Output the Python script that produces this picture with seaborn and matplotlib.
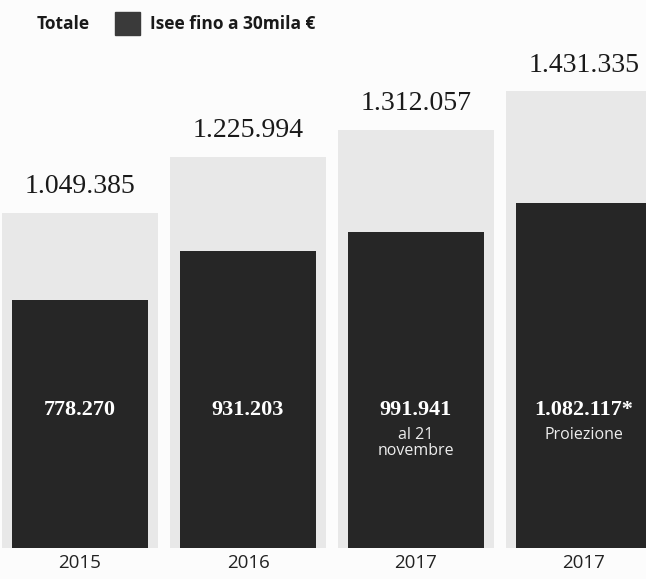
import matplotlib
matplotlib.use("Agg")
import matplotlib.pyplot as plt
import seaborn as sns
import pandas as pd

# Data
anni = ["2015", "2016", "2017", "2017"]
totale = [1049385, 1225994, 1312057, 1431335]
isee_30mila = [778270, 931203, 991941, 1082117]
totale_lbl = ["1.049.385", "1.225.994", "1.312.057", "1.431.335"]
isee_lbl = ["778.270", "931.203", "991.941", "1.082.117*"]
note_lbl = ["", "", "al 21\nnovembre", "Proiezione"]

sns.set_theme(style="white")
plt.rcParams["font.family"] = ["DejaVu Sans"]

df = pd.DataFrame({
    "pos": [f"c{i}" for i in range(len(anni))],
    "totale": totale,
    "isee": isee_30mila,
})

bg = "#fcfcfc"
fig = plt.figure(figsize=(6.46, 5.79), dpi=100, facecolor=bg)
ax = fig.add_axes([0, 31 / 579, 1, 488 / 579])
ax.set_facecolor(bg)

light = "#e8e8e8"
dark = "#262626"
sns.barplot(data=df, x="pos", y="totale", color=light, width=0.93,
            saturation=1, ax=ax, edgecolor="none")
sns.barplot(data=df, x="pos", y="isee", color=dark, width=0.81,
            saturation=1, ax=ax, edgecolor="none")

ax.set_xlim(-80 / 168, (646 - 80) / 168)
ax.set_ylim(0, 1530000)
for s in ax.spines.values():
    s.set_visible(False)
ax.set_yticks([])
ax.set_xlabel("")
ax.set_ylabel("")
ax.set_xticks(range(len(anni)))
ax.set_xticklabels(anni, fontsize=13.5, color="#222222", family=["Open Sans", "DejaVu Sans"])
ax.tick_params(axis="x", length=0, pad=4)

serif = ["Liberation Serif", "DejaVu Serif"]
for i, (t, tl) in enumerate(zip(totale, totale_lbl)):
    ax.annotate(tl, (i, t), xytext=(0, 10), textcoords="offset points",
                ha="center", va="bottom", fontsize=20, color="#1a1a1a",
                family=serif)
for i, (v, vl, nl) in enumerate(zip(isee_30mila, isee_lbl, note_lbl)):
    ax.text(i, 432000, vl, ha="center", va="center", fontsize=16,
            color="white", fontweight="bold", family=serif)
    if nl:
        ax.text(i, 378000, nl, ha="center", va="top", fontsize=11.5,
                color="#eeeeee", family=["Open Sans", "DejaVu Sans"],
                linespacing=1.0)

# Legend
fig.text(37 / 646, 1 - 24 / 579, "Totale", ha="left", va="center",
         fontsize=12.5, fontweight="bold", color="#1a1a1a",
         family=["Open Sans", "DejaVu Sans"])
fig.patches.append(plt.Rectangle((115 / 646, 1 - 35 / 579), 25 / 646, 23 / 579,
                                 transform=fig.transFigure, color="#3a3a3a"))
fig.text(150 / 646, 1 - 24 / 579, "Isee fino a 30mila €", ha="left", va="center",
         fontsize=12.5, fontweight="bold", color="#1a1a1a",
         family=["Open Sans", "DejaVu Sans"])

fig.savefig("out.png", dpi=100, facecolor=fig.get_facecolor())
